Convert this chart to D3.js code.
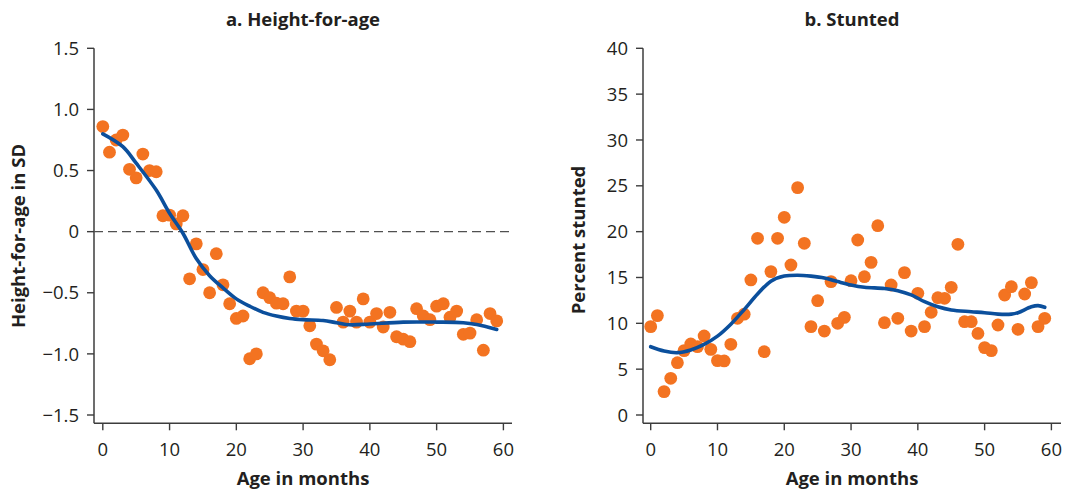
<!DOCTYPE html>
<html>
<head>
<meta charset="utf-8">
<script src="https://cdn.jsdelivr.net/npm/d3@7/dist/d3.min.js"></script>
<style>
  html, body { margin: 0; padding: 0; background: #ffffff; }
  svg { display: block; }
  text { font-family: "Open Sans", "Noto Sans", sans-serif; fill: #231f20; }
</style>
</head>
<body>
<svg id="chart" width="1070" height="492"></svg>
<script>
// Age in months (x categories shared by both panels)
const ages = [0,1,2,3,4,5,6,7,8,9,10,11,12,13,14,15,16,17,18,19,
              20,21,22,23,24,25,26,27,28,29,30,31,32,33,34,35,36,37,38,39,
              40,41,42,43,44,45,46,47,48,49,50,51,52,53,54,55,56,57,58,59];

// Panel a: mean height-for-age z-score by month
const heightForAge = [0.86,0.65,0.75,0.79,0.51,0.44,0.635,0.50,0.49,0.13,
                      0.135,0.063,0.13,-0.386,-0.10,-0.31,-0.50,-0.18,-0.435,-0.59,
                      -0.71,-0.69,-1.04,-1.00,-0.50,-0.54,-0.585,-0.59,-0.37,-0.65,
                      -0.65,-0.77,-0.92,-0.975,-1.048,-0.62,-0.74,-0.65,-0.74,-0.55,
                      -0.74,-0.67,-0.78,-0.66,-0.86,-0.88,-0.90,-0.63,-0.69,-0.72,
                      -0.61,-0.59,-0.70,-0.65,-0.84,-0.83,-0.72,-0.97,-0.67,-0.73];

// Panel a: smoothed fit
const hfaFitAges   = [0,3,5,8,10,12,14,16,18,20,22,24,26,28,30,33,35,37,40,45,50,54,56,59];
const hfaFitValues = [0.80,0.695,0.56,0.34,0.15,-0.013,-0.22,-0.36,-0.46,-0.55,-0.61,-0.66,
                      -0.69,-0.71,-0.72,-0.727,-0.745,-0.762,-0.755,-0.74,-0.74,-0.745,-0.76,-0.80];

// Panel b: percent stunted by month
const stunted = [9.64,10.84,2.55,4.0,5.71,7.02,7.75,7.45,8.62,7.16,
                 5.93,5.9,7.71,10.55,11.0,14.73,19.27,6.91,15.64,19.27,
                 21.56,16.36,24.8,18.73,9.64,12.47,9.16,14.55,10.0,10.65,
                 14.65,19.09,15.09,16.65,20.65,10.07,14.18,10.55,15.53,9.16,
                 13.27,9.64,11.2,12.8,12.73,13.93,18.62,10.18,10.18,8.9,
                 7.35,7.02,9.82,13.09,14.0,9.35,13.2,14.44,9.64,10.55];

// Panel b: smoothed fit
const stuntFitAges   = [0,2,4,6,8,10,12,14,16,18,20,22,24,26,28,30,32,35,37,39,41,43,45,48,50,52,54,55,57,58,59];
const stuntFitValues = [7.45,6.98,6.8,7.1,7.7,8.6,9.9,11.5,13.2,14.6,15.15,15.25,15.15,14.95,14.55,14.18,
                        13.93,13.8,13.56,13.1,12.36,11.8,11.45,11.27,11.16,11.0,11.0,11.16,11.8,11.93,11.75];

// Axis ticks and labels
const xTicks = [0,10,20,30,40,50,60];
const hfaTicks = [1.5,1.0,0.5,0,-0.5,-1.0,-1.5];
const hfaTickLabels = ["1.5","1.0","0.5","0","\u22120.5","\u22121.0","\u22121.5"];
const stuntTicks = [40,35,30,25,20,15,10,5,0];
const stuntTickLabels = ["40","35","30","25","20","15","10","5","0"];

const ORANGE = "#f37321";
const BLUE = "#0b4f9c";
const AXIS = "#3c3c3c";
const TICK_FONT = 18.5;
const TITLE_FONT = 18.5;

const svg = d3.select("#chart");

function panel(cfg) {
  const g = svg.append("g");
  const x = d3.scaleLinear().domain([0, 60]).range(cfg.xRange);
  const y = d3.scaleLinear().domain(cfg.yDomain).range([415, 48.3]);
  const axisY = 423.3;

  // y axis line + ticks + labels
  g.append("line")
    .attr("x1", cfg.axisX).attr("x2", cfg.axisX)
    .attr("y1", y(cfg.yDomain[1])).attr("y2", axisY)
    .attr("stroke", AXIS).attr("stroke-width", 1.5);
  cfg.yTicks.forEach((t, i) => {
    g.append("line")
      .attr("x1", cfg.axisX - 7).attr("x2", cfg.axisX)
      .attr("y1", y(t)).attr("y2", y(t))
      .attr("stroke", AXIS).attr("stroke-width", 1.4);
    g.append("text")
      .attr("x", cfg.axisX - 15).attr("y", y(t))
      .attr("dy", "0.36em")
      .attr("text-anchor", "end")
      .attr("font-size", TICK_FONT)
      .text(cfg.yLabels[i]);
  });

  // x axis line + ticks + labels
  g.append("line")
    .attr("x1", cfg.axisX).attr("x2", cfg.axisEnd)
    .attr("y1", axisY).attr("y2", axisY)
    .attr("stroke", AXIS).attr("stroke-width", 1.5);
  xTicks.forEach(t => {
    g.append("line")
      .attr("x1", x(t)).attr("x2", x(t))
      .attr("y1", axisY).attr("y2", axisY + 7)
      .attr("stroke", AXIS).attr("stroke-width", 1.4);
    g.append("text")
      .attr("x", x(t)).attr("y", 455.5)
      .attr("text-anchor", "middle")
      .attr("font-size", TICK_FONT)
      .text(t);
  });

  // reference line at zero
  if (cfg.zeroLine) {
    g.append("line")
      .attr("x1", cfg.axisX).attr("x2", cfg.axisEnd)
      .attr("y1", y(0)).attr("y2", y(0))
      .attr("stroke", "#505050").attr("stroke-width", 1.4)
      .attr("stroke-dasharray", "9,5");
  }

  // scatter points
  g.append("g").selectAll("circle")
    .data(ages.map((a, i) => [a, cfg.values[i]]))
    .join("circle")
    .attr("cx", d => x(d[0]))
    .attr("cy", d => y(d[1]))
    .attr("r", 6.4)
    .attr("fill", ORANGE);

  // smoothed fit
  const line = d3.line()
    .x(d => x(d[0])).y(d => y(d[1]))
    .curve(d3.curveCatmullRom.alpha(0.5));
  g.append("path")
    .datum(cfg.fitAges.map((a, i) => [a, cfg.fitValues[i]]))
    .attr("d", line)
    .attr("fill", "none")
    .attr("stroke", BLUE)
    .attr("stroke-width", 3.6)
    .attr("stroke-linecap", "round");

  // titles
  g.append("text")
    .attr("x", cfg.titleX).attr("y", 26)
    .attr("text-anchor", "middle")
    .attr("font-size", TITLE_FONT).attr("font-weight", 700)
    .text(cfg.title);
  g.append("text")
    .attr("x", cfg.titleX).attr("y", 485)
    .attr("text-anchor", "middle")
    .attr("font-size", TITLE_FONT).attr("font-weight", 700)
    .text("Age in months");
  g.append("text")
    .attr("transform", `translate(${cfg.yTitleX},${cfg.yTitleY}) rotate(-90)`)
    .attr("text-anchor", "middle")
    .attr("font-size", TITLE_FONT).attr("font-weight", 700)
    .text(cfg.yTitle);
}

panel({
  xRange: [102.8, 503.4], axisX: 94, axisEnd: 512,
  yDomain: [-1.5, 1.5], yTicks: hfaTicks, yLabels: hfaTickLabels,
  values: heightForAge, fitAges: hfaFitAges, fitValues: hfaFitValues,
  zeroLine: true,
  title: "a. Height-for-age", titleX: 303,
  yTitle: "Height-for-age in SD", yTitleX: 25, yTitleY: 236
});

panel({
  xRange: [650.7, 1051.4], axisX: 643, axisEnd: 1061,
  yDomain: [0, 40], yTicks: stuntTicks, yLabels: stuntTickLabels,
  values: stunted, fitAges: stuntFitAges, fitValues: stuntFitValues,
  zeroLine: false,
  title: "b. Stunted", titleX: 852,
  yTitle: "Percent stunted", yTitleX: 585, yTitleY: 240
});
</script>
</body>
</html>
